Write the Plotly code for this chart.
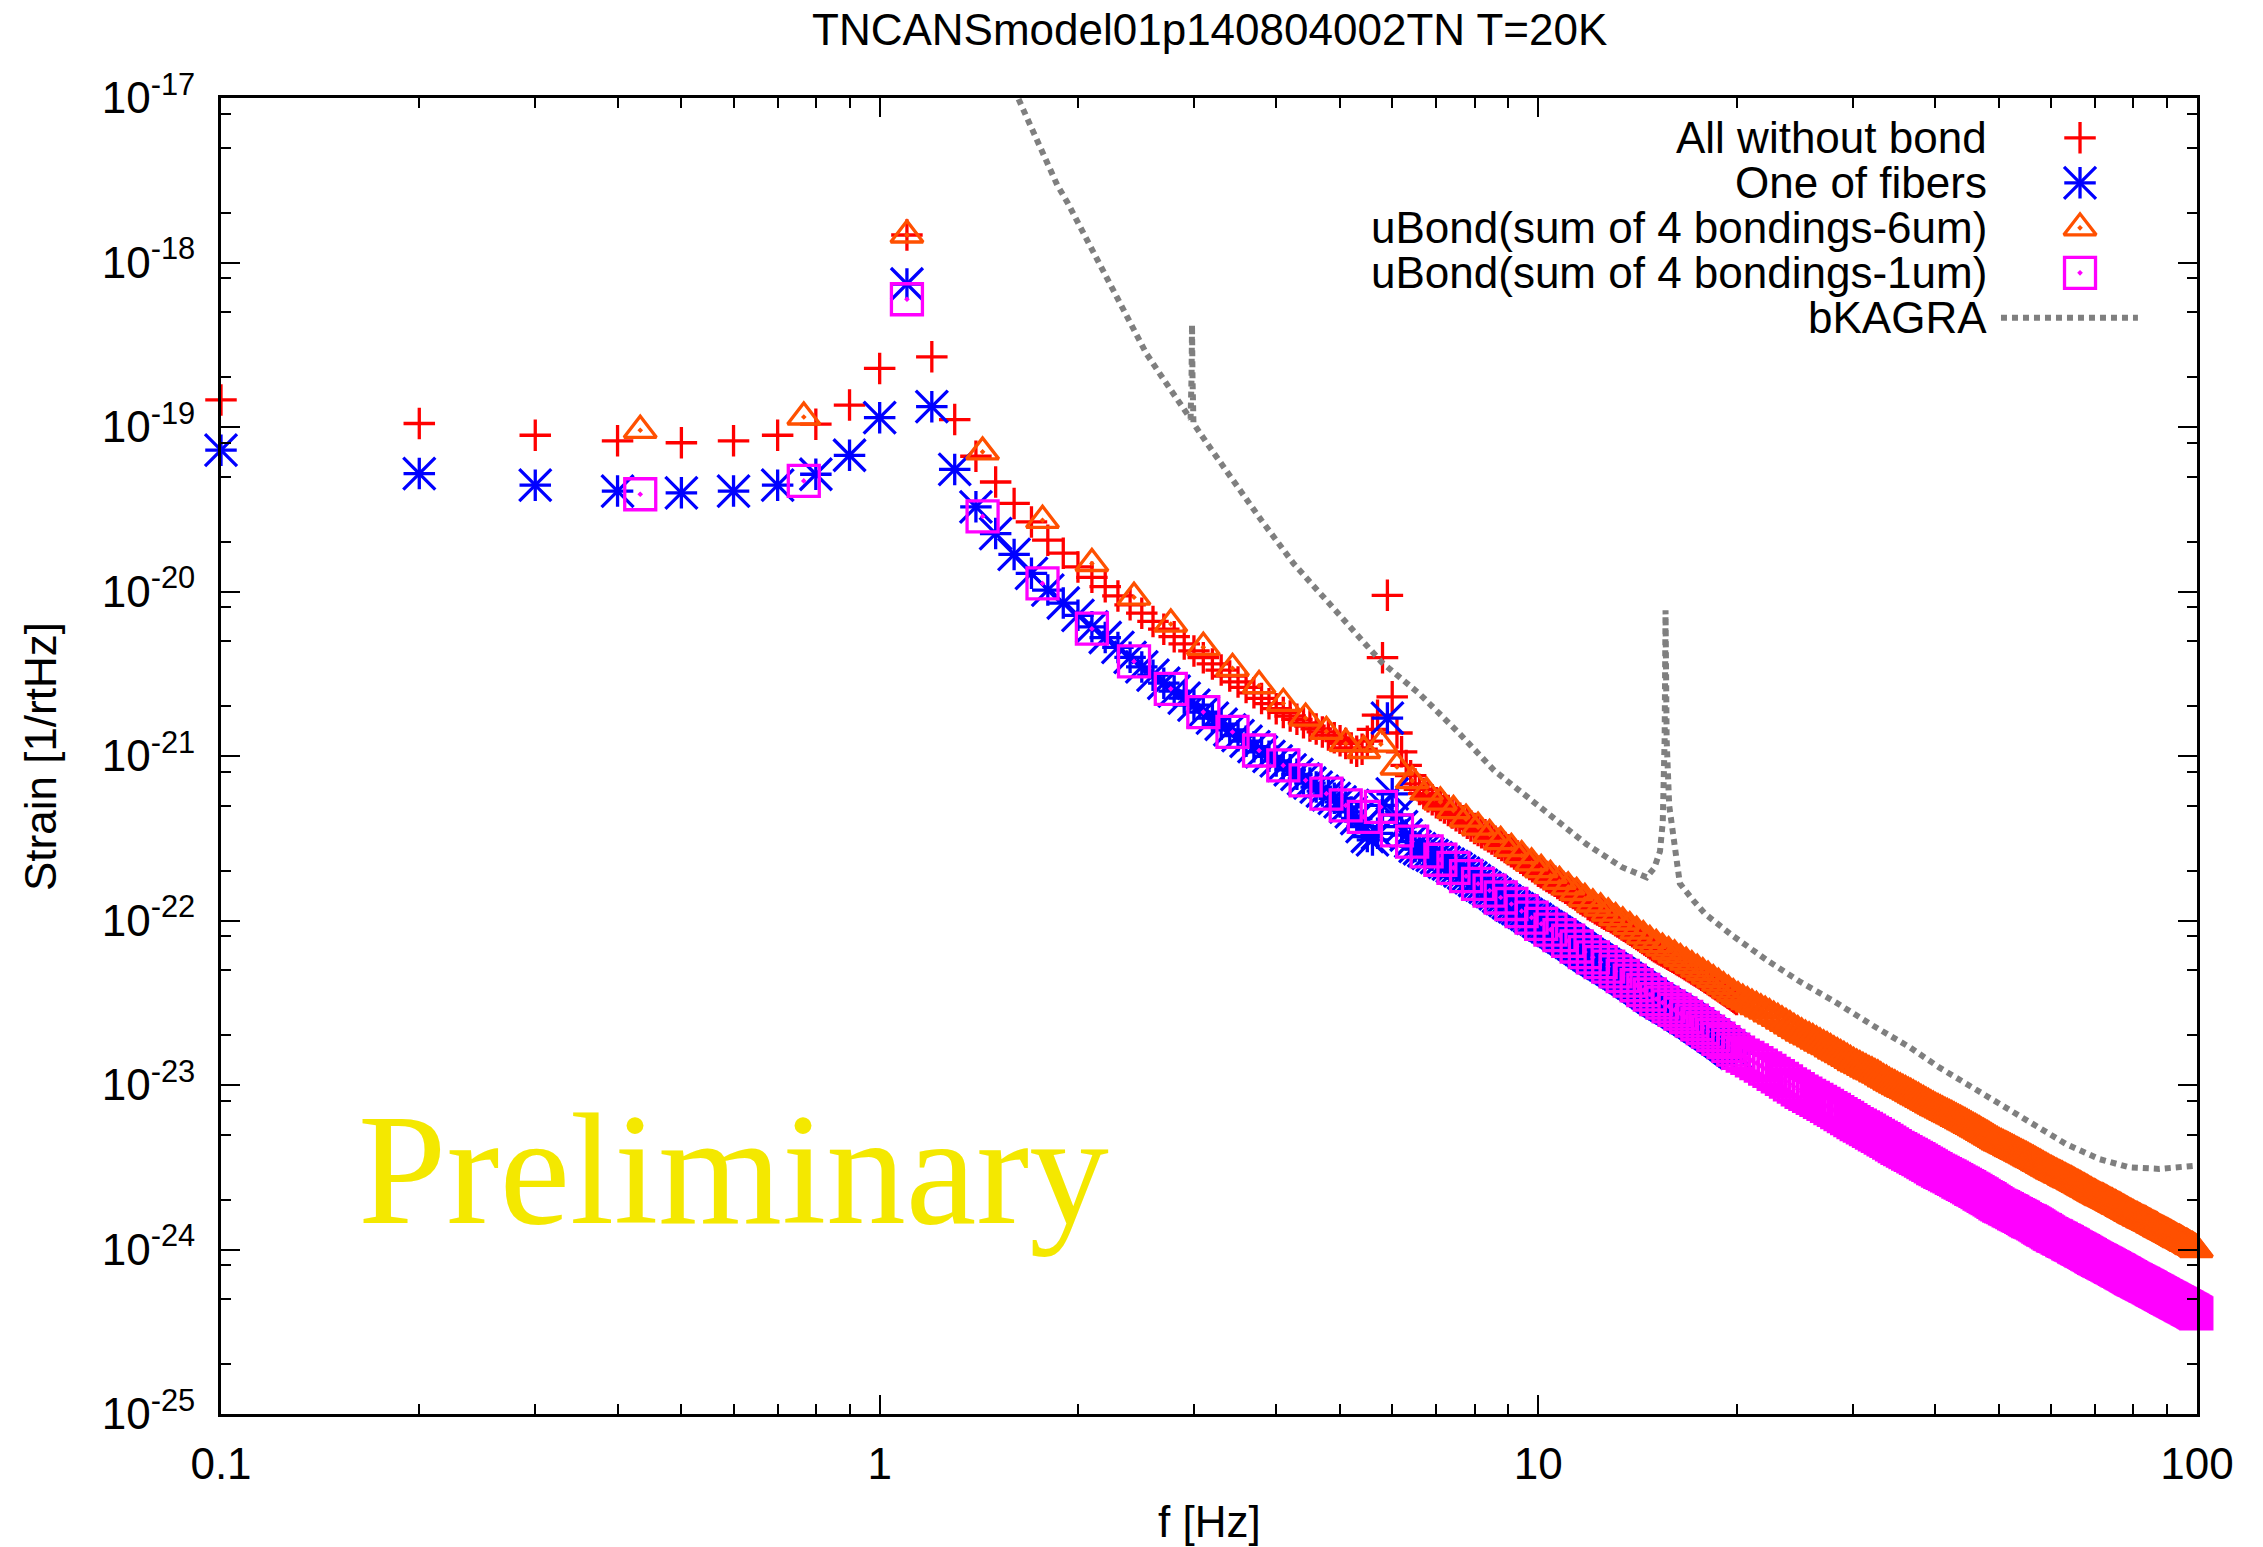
import plotly.graph_objects as go

# ---------------- text ----------------
title_text = "TNCANSmodel01p140804002TN T=20K"
x_title = "f [Hz]"
y_title = "Strain [1/rtHz]"
series_names = ["All without bond", "One of fibers", "uBond(sum of 4 bondings-6um)",
                "uBond(sum of 4 bondings-1um)", "bKAGRA"]
watermark = "Preliminary"

# ---------------- data ----------------
# frequency grid of the fiber series (0.1 Hz steps)
freq_fine = [
    0.1, 0.2, 0.3, 0.4, 0.5, 0.6, 0.7, 0.8, 0.9, 1.0,
    1.1, 1.2, 1.3, 1.4, 1.5, 1.6, 1.7, 1.8, 1.9, 2.0,
    2.1, 2.2, 2.3, 2.4, 2.5, 2.6, 2.7, 2.8, 2.9, 3.0,
    3.1, 3.2, 3.3, 3.4, 3.5, 3.6, 3.7, 3.8, 3.9, 4.0,
    4.1, 4.2, 4.3, 4.4, 4.5, 4.6, 4.7, 4.8, 4.9, 5.0,
    5.1, 5.2, 5.3, 5.4, 5.5, 5.6, 5.7, 5.8, 5.9, 6.0,
    6.1, 6.2, 6.3, 6.4, 6.5, 6.6, 6.7, 6.8, 6.9, 7.0,
    7.1, 7.2, 7.3, 7.4, 7.5, 7.6, 7.7, 7.8, 7.9, 8.0,
    8.1, 8.2, 8.3, 8.4, 8.5, 8.6, 8.7, 8.8, 8.9, 9.0,
    9.1, 9.2, 9.3, 9.4, 9.5, 9.6, 9.7, 9.8, 9.9, 10.0,
    10.1, 10.2, 10.3, 10.4, 10.5, 10.6, 10.7, 10.8, 10.9, 11.0,
    11.1, 11.2, 11.3, 11.4, 11.5, 11.6, 11.7, 11.8, 11.9, 12.0,
    12.1, 12.2, 12.3, 12.4, 12.5, 12.6, 12.7, 12.8, 12.9, 13.0,
    13.1, 13.2, 13.3, 13.4, 13.5, 13.6, 13.7, 13.8, 13.9, 14.0,
    14.1, 14.2, 14.3, 14.4, 14.5, 14.6, 14.7, 14.8, 14.9, 15.0,
    15.1, 15.2, 15.3, 15.4, 15.5, 15.6, 15.7, 15.8, 15.9, 16.0,
    16.1, 16.2, 16.3, 16.4, 16.5, 16.6, 16.7, 16.8, 16.9, 17.0,
    17.1, 17.2, 17.3, 17.4, 17.5, 17.6, 17.7, 17.8, 17.9, 18.0,
    18.1, 18.2, 18.3, 18.4, 18.5, 18.6, 18.7, 18.8, 18.9, 19.0,
    19.1, 19.2, 19.3, 19.4, 19.5, 19.6, 19.7, 19.8, 19.9, 20.0,
]

all_without_bond = [
    1.46e-19, 1.05e-19, 8.91e-20, 8.24e-20, 8.02e-20, 8.24e-20, 8.91e-20, 1.04e-19, 1.36e-19, 2.27e-19,
    1.47e-18, 2.67e-19, 1.11e-19, 6.64e-20, 4.63e-20, 3.43e-20, 2.65e-20, 2.05e-20, 1.71e-20, 1.41e-20,
    1.22e-20, 1.07e-20, 9.40e-21, 8.30e-21, 7.38e-21, 6.58e-21, 5.90e-21, 5.31e-21, 4.80e-21, 4.35e-21,
    3.96e-21, 3.63e-21, 3.33e-21, 3.06e-21, 2.82e-21, 2.61e-21, 2.42e-21, 2.24e-21, 2.08e-21, 1.94e-21,
    1.84e-21, 1.75e-21, 1.67e-21, 1.59e-21, 1.52e-21, 1.46e-21, 1.40e-21, 1.34e-21, 1.29e-21, 1.24e-21,
    1.19e-21, 1.12e-21, 1.07e-21, 1.10e-21, 1.23e-21, 1.45e-21, 1.77e-21, 3.96e-21, 9.48e-21, 2.29e-21,
    1.38e-21, 1.06e-21, 8.77e-22, 7.59e-22, 6.76e-22, 6.26e-22, 5.91e-22, 5.66e-22, 5.42e-22, 5.19e-22,
    5.01e-22, 4.83e-22, 4.66e-22, 4.50e-22, 4.34e-22, 4.19e-22, 4.04e-22, 3.90e-22, 3.76e-22, 3.63e-22,
    3.53e-22, 3.42e-22, 3.32e-22, 3.23e-22, 3.13e-22, 3.03e-22, 2.95e-22, 2.86e-22, 2.78e-22, 2.69e-22,
    2.62e-22, 2.54e-22, 2.47e-22, 2.39e-22, 2.32e-22, 2.25e-22, 2.19e-22, 2.12e-22, 2.06e-22, 1.99e-22,
    1.95e-22, 1.90e-22, 1.85e-22, 1.81e-22, 1.77e-22, 1.73e-22, 1.68e-22, 1.64e-22, 1.61e-22, 1.57e-22,
    1.53e-22, 1.49e-22, 1.46e-22, 1.43e-22, 1.38e-22, 1.35e-22, 1.32e-22, 1.30e-22, 1.25e-22, 1.23e-22,
    1.21e-22, 1.18e-22, 1.16e-22, 1.14e-22, 1.11e-22, 1.09e-22, 1.07e-22, 1.06e-22, 1.04e-22, 1.02e-22,
    9.96e-23, 9.78e-23, 9.59e-23, 9.40e-23, 9.23e-23, 9.06e-23, 8.88e-23, 8.72e-23, 8.55e-23, 8.38e-23,
    8.22e-23, 8.07e-23, 7.91e-23, 7.76e-23, 7.62e-23, 7.47e-23, 7.33e-23, 7.19e-23, 7.05e-23, 6.93e-23,
    6.83e-23, 6.72e-23, 6.62e-23, 6.52e-23, 6.43e-23, 6.35e-23, 6.24e-23, 6.15e-23, 6.06e-23, 5.97e-23,
    5.90e-23, 5.80e-23, 5.71e-23, 5.63e-23, 5.55e-23, 5.48e-23, 5.38e-23, 5.31e-23, 5.23e-23, 5.16e-23,
    5.08e-23, 5.01e-23, 4.93e-23, 4.86e-23, 4.79e-23, 4.73e-23, 4.65e-23, 4.59e-23, 4.51e-23, 4.45e-23,
    4.38e-23, 4.32e-23, 4.26e-23, 4.19e-23, 4.13e-23, 4.07e-23, 4.01e-23, 3.96e-23, 3.89e-23, 3.84e-23,
    3.78e-23, 3.73e-23, 3.68e-23, 3.61e-23, 3.57e-23, 3.52e-23, 3.46e-23, 3.41e-23, 3.36e-23, 3.31e-23,
]

one_of_fibers = [
    7.23e-20, 5.21e-20, 4.43e-20, 4.08e-20, 3.98e-20, 4.08e-20, 4.43e-20, 5.16e-20, 6.73e-20, 1.14e-19,
    7.40e-19, 1.33e-19, 5.52e-20, 3.27e-20, 2.25e-20, 1.68e-20, 1.29e-20, 1.02e-20, 8.51e-21, 7.16e-21,
    6.10e-21, 5.25e-21, 4.57e-21, 3.98e-21, 3.48e-21, 3.10e-21, 2.77e-21, 2.48e-21, 2.25e-21, 2.04e-21,
    1.85e-21, 1.70e-21, 1.56e-21, 1.44e-21, 1.33e-21, 1.23e-21, 1.14e-21, 1.06e-21, 9.95e-22, 9.33e-22,
    8.77e-22, 8.24e-22, 7.74e-22, 7.26e-22, 6.85e-22, 6.47e-22, 6.12e-22, 5.81e-22, 5.53e-22, 5.26e-22,
    4.90e-22, 4.57e-22, 4.17e-22, 3.72e-22, 3.24e-22, 3.09e-22, 3.39e-22, 5.01e-22, 1.70e-21, 5.89e-22,
    4.37e-22, 3.72e-22, 3.31e-22, 3.02e-22, 2.82e-22, 2.73e-22, 2.65e-22, 2.56e-22, 2.49e-22, 2.41e-22,
    2.34e-22, 2.26e-22, 2.20e-22, 2.13e-22, 2.07e-22, 2.00e-22, 1.94e-22, 1.88e-22, 1.82e-22, 1.75e-22,
    1.69e-22, 1.64e-22, 1.59e-22, 1.54e-22, 1.50e-22, 1.45e-22, 1.40e-22, 1.36e-22, 1.32e-22, 1.28e-22,
    1.24e-22, 1.21e-22, 1.18e-22, 1.15e-22, 1.12e-22, 1.09e-22, 1.06e-22, 1.03e-22, 1.02e-22, 9.87e-23,
    9.59e-23, 9.38e-23, 9.16e-23, 8.94e-23, 8.72e-23, 8.52e-23, 8.31e-23, 8.11e-23, 7.91e-23, 7.73e-23,
    7.55e-23, 7.36e-23, 7.19e-23, 7.01e-23, 6.85e-23, 6.68e-23, 6.52e-23, 6.37e-23, 6.21e-23, 6.07e-23,
    5.95e-23, 5.84e-23, 5.72e-23, 5.61e-23, 5.50e-23, 5.40e-23, 5.29e-23, 5.19e-23, 5.09e-23, 4.99e-23,
    4.90e-23, 4.80e-23, 4.71e-23, 4.62e-23, 4.52e-23, 4.44e-23, 4.35e-23, 4.27e-23, 4.18e-23, 4.11e-23,
    4.02e-23, 3.95e-23, 3.87e-23, 3.80e-23, 3.72e-23, 3.65e-23, 3.58e-23, 3.51e-23, 3.44e-23, 3.37e-23,
    3.32e-23, 3.27e-23, 3.22e-23, 3.17e-23, 3.12e-23, 3.07e-23, 3.03e-23, 2.98e-23, 2.93e-23, 2.90e-23,
    2.85e-23, 2.80e-23, 2.76e-23, 2.72e-23, 2.68e-23, 2.63e-23, 2.59e-23, 2.56e-23, 2.52e-23, 2.48e-23,
    2.44e-23, 2.41e-23, 2.37e-23, 2.33e-23, 2.29e-23, 2.26e-23, 2.23e-23, 2.19e-23, 2.15e-23, 2.12e-23,
    2.09e-23, 2.06e-23, 2.03e-23, 1.99e-23, 1.96e-23, 1.94e-23, 1.91e-23, 1.88e-23, 1.85e-23, 1.82e-23,
    1.80e-23, 1.77e-23, 1.74e-23, 1.71e-23, 1.68e-23, 1.66e-23, 1.64e-23, 1.61e-23, 1.59e-23, 1.56e-23,
]

# frequency grid of the bonding series (1/3 Hz steps)
freq_bond = [
    0.433, 0.767,
    1.1, 1.433, 1.767, 2.1, 2.433, 2.767, 3.1, 3.433, 3.767,
    4.1, 4.433, 4.767, 5.1, 5.433, 5.767, 6.1, 6.433, 6.767,
    7.1, 7.433, 7.767, 8.1, 8.433, 8.767, 9.1, 9.433, 9.767,
    10.1, 10.433, 10.767, 11.1, 11.433, 11.767, 12.1, 12.433, 12.767,
    13.1, 13.433, 13.767, 14.1, 14.433, 14.767, 15.1, 15.433, 15.767,
    16.1, 16.433, 16.767, 17.1, 17.433, 17.767, 18.1, 18.433, 18.767,
    19.1, 19.433, 19.767, 20.1, 20.433, 20.767, 21.1, 21.433, 21.767,
    22.1, 22.433, 22.767, 23.1, 23.433, 23.767, 24.1, 24.433, 24.767,
    25.1, 25.433, 25.767, 26.1, 26.433, 26.767, 27.1, 27.433, 27.767,
    28.1, 28.433, 28.767, 29.1, 29.433, 29.767, 30.1, 30.433, 30.767,
    31.1, 31.433, 31.767, 32.1, 32.433, 32.767, 33.1, 33.433, 33.767,
    34.1, 34.433, 34.767, 35.1, 35.433, 35.767, 36.1, 36.433, 36.767,
    37.1, 37.433, 37.767, 38.1, 38.433, 38.767, 39.1, 39.433, 39.767,
    40.1, 40.433, 40.767, 41.1, 41.433, 41.767, 42.1, 42.433, 42.767,
    43.1, 43.433, 43.767, 44.1, 44.433, 44.767, 45.1, 45.433, 45.767,
    46.1, 46.433, 46.767, 47.1, 47.433, 47.767, 48.1, 48.433, 48.767,
    49.1, 49.433, 49.767, 50.1, 50.433, 50.767, 51.1, 51.433, 51.767,
    52.1, 52.433, 52.767, 53.1, 53.433, 53.767, 54.1, 54.433, 54.767,
    55.1, 55.433, 55.767, 56.1, 56.433, 56.767, 57.1, 57.433, 57.767,
    58.1, 58.433, 58.767, 59.1, 59.433, 59.767, 60.1, 60.433, 60.767,
    61.1, 61.433, 61.767, 62.1, 62.433, 62.767, 63.1, 63.433, 63.767,
    64.1, 64.433, 64.767, 65.1, 65.433, 65.767, 66.1, 66.433, 66.767,
    67.1, 67.433, 67.767, 68.1, 68.433, 68.767, 69.1, 69.433, 69.767,
    70.1, 70.433, 70.767, 71.1, 71.433, 71.767, 72.1, 72.433, 72.767,
    73.1, 73.433, 73.767, 74.1, 74.433, 74.767, 75.1, 75.433, 75.767,
    76.1, 76.433, 76.767, 77.1, 77.433, 77.767, 78.1, 78.433, 78.767,
    79.1, 79.433, 79.767, 80.1, 80.433, 80.767, 81.1, 81.433, 81.767,
    82.1, 82.433, 82.767, 83.1, 83.433, 83.767, 84.1, 84.433, 84.767,
    85.1, 85.433, 85.767, 86.1, 86.433, 86.767, 87.1, 87.433, 87.767,
    88.1, 88.433, 88.767, 89.1, 89.433, 89.767, 90.1, 90.433, 90.767,
    91.1, 91.433, 91.767, 92.1, 92.433, 92.767, 93.1, 93.433, 93.767,
    94.1, 94.433, 94.767, 95.1, 95.433, 95.767, 96.1, 96.433, 96.767,
    97.1, 97.433, 97.767, 98.1, 98.433, 98.767, 99.1, 99.433, 99.767,
]

ubond_6um = [
    9.55e-20, 1.15e-19,
    1.47e-18, 7.06e-20, 2.71e-20, 1.48e-20, 9.23e-21, 6.34e-21, 4.58e-21, 3.41e-21, 2.68e-21,
    2.09e-21, 1.70e-21, 1.41e-21, 1.19e-21, 1.08e-21, 1.18e-21, 8.57e-22, 7.08e-22, 6.03e-22,
    5.25e-22, 4.66e-22, 4.13e-22, 3.69e-22, 3.34e-22, 3.02e-22, 2.74e-22, 2.48e-22, 2.24e-22,
    2.04e-22, 1.88e-22, 1.73e-22, 1.60e-22, 1.48e-22, 1.36e-22, 1.26e-22, 1.19e-22, 1.11e-22,
    1.04e-22, 9.79e-23, 9.18e-23, 8.61e-23, 8.07e-23, 7.57e-23, 7.14e-23, 6.79e-23, 6.47e-23,
    6.17e-23, 5.86e-23, 5.58e-23, 5.32e-23, 5.06e-23, 4.82e-23, 4.59e-23, 4.37e-23, 4.16e-23,
    3.96e-23, 3.77e-23, 3.59e-23, 3.44e-23, 3.32e-23, 3.21e-23, 3.10e-23, 3.00e-23, 2.90e-23,
    2.81e-23, 2.71e-23, 2.62e-23, 2.54e-23, 2.45e-23, 2.37e-23, 2.29e-23, 2.21e-23, 2.14e-23,
    2.07e-23, 2.01e-23, 1.96e-23, 1.91e-23, 1.85e-23, 1.80e-23, 1.75e-23, 1.71e-23, 1.66e-23,
    1.61e-23, 1.57e-23, 1.53e-23, 1.49e-23, 1.45e-23, 1.41e-23, 1.37e-23, 1.34e-23, 1.31e-23,
    1.28e-23, 1.25e-23, 1.22e-23, 1.20e-23, 1.17e-23, 1.15e-23, 1.12e-23, 1.09e-23, 1.07e-23,
    1.04e-23, 1.02e-23, 1.00e-23, 9.77e-24, 9.59e-24, 9.40e-24, 9.23e-24, 9.04e-24, 8.87e-24,
    8.69e-24, 8.51e-24, 8.36e-24, 8.18e-24, 8.04e-24, 7.87e-24, 7.73e-24, 7.57e-24, 7.43e-24,
    7.29e-24, 7.18e-24, 7.06e-24, 6.93e-24, 6.82e-24, 6.71e-24, 6.61e-24, 6.50e-24, 6.40e-24,
    6.28e-24, 6.18e-24, 6.08e-24, 5.98e-24, 5.89e-24, 5.79e-24, 5.69e-24, 5.60e-24, 5.51e-24,
    5.42e-24, 5.33e-24, 5.25e-24, 5.15e-24, 5.07e-24, 4.99e-24, 4.91e-24, 4.83e-24, 4.75e-24,
    4.67e-24, 4.59e-24, 4.52e-24, 4.45e-24, 4.40e-24, 4.34e-24, 4.28e-24, 4.23e-24, 4.17e-24,
    4.11e-24, 4.06e-24, 4.01e-24, 3.95e-24, 3.91e-24, 3.85e-24, 3.80e-24, 3.76e-24, 3.71e-24,
    3.66e-24, 3.61e-24, 3.56e-24, 3.52e-24, 3.48e-24, 3.43e-24, 3.38e-24, 3.34e-24, 3.30e-24,
    3.25e-24, 3.21e-24, 3.17e-24, 3.13e-24, 3.09e-24, 3.05e-24, 3.01e-24, 2.98e-24, 2.94e-24,
    2.91e-24, 2.88e-24, 2.84e-24, 2.82e-24, 2.79e-24, 2.75e-24, 2.72e-24, 2.69e-24, 2.66e-24,
    2.64e-24, 2.61e-24, 2.58e-24, 2.55e-24, 2.52e-24, 2.49e-24, 2.47e-24, 2.44e-24, 2.41e-24,
    2.38e-24, 2.36e-24, 2.33e-24, 2.31e-24, 2.28e-24, 2.25e-24, 2.23e-24, 2.20e-24, 2.18e-24,
    2.16e-24, 2.14e-24, 2.11e-24, 2.09e-24, 2.07e-24, 2.06e-24, 2.04e-24, 2.02e-24, 2.00e-24,
    1.98e-24, 1.96e-24, 1.94e-24, 1.92e-24, 1.91e-24, 1.88e-24, 1.87e-24, 1.85e-24, 1.83e-24,
    1.82e-24, 1.80e-24, 1.78e-24, 1.76e-24, 1.75e-24, 1.73e-24, 1.71e-24, 1.70e-24, 1.68e-24,
    1.66e-24, 1.65e-24, 1.63e-24, 1.62e-24, 1.60e-24, 1.59e-24, 1.58e-24, 1.56e-24, 1.55e-24,
    1.54e-24, 1.52e-24, 1.51e-24, 1.50e-24, 1.49e-24, 1.48e-24, 1.46e-24, 1.45e-24, 1.44e-24,
    1.43e-24, 1.41e-24, 1.40e-24, 1.39e-24, 1.38e-24, 1.37e-24, 1.36e-24, 1.34e-24, 1.33e-24,
    1.32e-24, 1.31e-24, 1.30e-24, 1.29e-24, 1.28e-24, 1.27e-24, 1.26e-24, 1.25e-24, 1.24e-24,
    1.23e-24, 1.22e-24, 1.21e-24, 1.20e-24, 1.19e-24, 1.18e-24, 1.17e-24, 1.16e-24, 1.15e-24,
    1.15e-24, 1.14e-24, 1.13e-24, 1.12e-24, 1.11e-24, 1.10e-24, 1.09e-24, 1.09e-24, 1.08e-24,
    1.07e-24, 1.06e-24, 1.05e-24, 1.04e-24, 1.04e-24, 1.03e-24, 1.02e-24, 1.01e-24, 1.00e-24,
]

ubond_1um = [
    3.90e-20, 4.70e-20,
    5.98e-19, 2.86e-20, 1.12e-20, 5.94e-21, 3.76e-21, 2.56e-21, 1.85e-21, 1.40e-21, 1.08e-21,
    8.77e-22, 7.11e-22, 5.90e-22, 5.01e-22, 4.26e-22, 4.90e-22, 3.53e-22, 3.02e-22, 2.63e-22,
    2.34e-22, 2.09e-22, 1.86e-22, 1.67e-22, 1.52e-22, 1.38e-22, 1.26e-22, 1.14e-22, 1.04e-22,
    9.55e-23, 8.81e-23, 8.15e-23, 7.53e-23, 6.95e-23, 6.43e-23, 5.97e-23, 5.58e-23, 5.24e-23,
    4.91e-23, 4.60e-23, 4.31e-23, 4.04e-23, 3.78e-23, 3.55e-23, 3.33e-23, 3.17e-23, 3.01e-23,
    2.86e-23, 2.72e-23, 2.59e-23, 2.46e-23, 2.34e-23, 2.22e-23, 2.11e-23, 2.01e-23, 1.91e-23,
    1.82e-23, 1.73e-23, 1.64e-23, 1.57e-23, 1.51e-23, 1.46e-23, 1.41e-23, 1.36e-23, 1.31e-23,
    1.26e-23, 1.22e-23, 1.17e-23, 1.13e-23, 1.09e-23, 1.05e-23, 1.01e-23, 9.77e-24, 9.42e-24,
    9.10e-24, 8.85e-24, 8.59e-24, 8.36e-24, 8.13e-24, 7.89e-24, 7.67e-24, 7.46e-24, 7.24e-24,
    7.05e-24, 6.85e-24, 6.65e-24, 6.47e-24, 6.30e-24, 6.11e-24, 5.94e-24, 5.79e-24, 5.66e-24,
    5.53e-24, 5.40e-24, 5.27e-24, 5.14e-24, 5.02e-24, 4.91e-24, 4.79e-24, 4.68e-24, 4.57e-24,
    4.46e-24, 4.36e-24, 4.25e-24, 4.15e-24, 4.07e-24, 3.99e-24, 3.91e-24, 3.83e-24, 3.76e-24,
    3.68e-24, 3.61e-24, 3.54e-24, 3.47e-24, 3.40e-24, 3.33e-24, 3.27e-24, 3.20e-24, 3.13e-24,
    3.08e-24, 3.02e-24, 2.97e-24, 2.92e-24, 2.87e-24, 2.82e-24, 2.78e-24, 2.73e-24, 2.69e-24,
    2.64e-24, 2.59e-24, 2.55e-24, 2.51e-24, 2.47e-24, 2.43e-24, 2.39e-24, 2.34e-24, 2.31e-24,
    2.27e-24, 2.23e-24, 2.19e-24, 2.16e-24, 2.12e-24, 2.08e-24, 2.05e-24, 2.02e-24, 1.98e-24,
    1.95e-24, 1.91e-24, 1.88e-24, 1.85e-24, 1.83e-24, 1.81e-24, 1.78e-24, 1.76e-24, 1.73e-24,
    1.71e-24, 1.69e-24, 1.66e-24, 1.64e-24, 1.62e-24, 1.60e-24, 1.58e-24, 1.56e-24, 1.53e-24,
    1.51e-24, 1.49e-24, 1.48e-24, 1.46e-24, 1.44e-24, 1.42e-24, 1.40e-24, 1.38e-24, 1.36e-24,
    1.34e-24, 1.32e-24, 1.31e-24, 1.29e-24, 1.27e-24, 1.25e-24, 1.24e-24, 1.22e-24, 1.21e-24,
    1.20e-24, 1.18e-24, 1.17e-24, 1.16e-24, 1.14e-24, 1.13e-24, 1.12e-24, 1.11e-24, 1.09e-24,
    1.08e-24, 1.07e-24, 1.06e-24, 1.04e-24, 1.03e-24, 1.02e-24, 1.01e-24, 9.98e-25, 9.86e-25,
    9.77e-25, 9.66e-25, 9.55e-25, 9.44e-25, 9.33e-25, 9.23e-25, 9.12e-25, 9.02e-25, 8.91e-25,
    8.83e-25, 8.73e-25, 8.65e-25, 8.57e-25, 8.49e-25, 8.41e-25, 8.32e-25, 8.24e-25, 8.17e-25,
    8.09e-25, 8.00e-25, 7.93e-25, 7.85e-25, 7.78e-25, 7.71e-25, 7.62e-25, 7.55e-25, 7.48e-25,
    7.41e-25, 7.33e-25, 7.26e-25, 7.19e-25, 7.13e-25, 7.05e-25, 6.98e-25, 6.92e-25, 6.85e-25,
    6.78e-25, 6.71e-25, 6.65e-25, 6.59e-25, 6.53e-25, 6.49e-25, 6.43e-25, 6.37e-25, 6.32e-25,
    6.27e-25, 6.21e-25, 6.17e-25, 6.11e-25, 6.05e-25, 6.01e-25, 5.96e-25, 5.90e-25, 5.86e-25,
    5.81e-25, 5.75e-25, 5.71e-25, 5.66e-25, 5.61e-25, 5.57e-25, 5.52e-25, 5.47e-25, 5.43e-25,
    5.38e-25, 5.33e-25, 5.30e-25, 5.25e-25, 5.20e-25, 5.16e-25, 5.12e-25, 5.08e-25, 5.04e-25,
    5.00e-25, 4.97e-25, 4.92e-25, 4.89e-25, 4.85e-25, 4.81e-25, 4.78e-25, 4.74e-25, 4.70e-25,
    4.67e-25, 4.63e-25, 4.59e-25, 4.56e-25, 4.53e-25, 4.49e-25, 4.46e-25, 4.43e-25, 4.39e-25,
    4.36e-25, 4.33e-25, 4.29e-25, 4.26e-25, 4.23e-25, 4.19e-25, 4.16e-25, 4.13e-25, 4.09e-25,
]

bkagra_f = [
    1.55, 1.62, 1.74, 1.86, 1.93, 2.01, 2.10, 2.21, 2.31, 2.42,
    2.54, 2.70, 2.85, 2.95, 2.965, 2.975, 2.98, 2.985, 2.995, 3.0,
    3.2, 3.5, 3.8, 4.25, 4.7, 5.16, 5.78, 6.60, 7.55, 8.57,
    10.07, 11.82, 13.4, 14.2, 14.6, 15.0, 15.3, 15.45, 15.55, 15.6,
    15.66, 15.8, 16.1, 16.4, 17.2, 17.9, 19.7, 22.4, 24.9, 28.0,
    32.2, 36.6, 40.6, 44.6, 50.1, 56.2, 63.2, 71.0, 78.9, 87.6,
    97.3, 100.0,
]
bkagra_h = [
    1.5e-17, 1.0e-17, 5.3e-18, 2.96e-18, 2.30e-18, 1.69e-18, 1.16e-18, 8.18e-19, 5.64e-19, 3.98e-19,
    2.80e-19, 1.94e-19, 1.41e-19, 1.14e-19, 1.12e-19, 2.0e-19, 4.2e-19, 2.0e-19, 1.06e-19, 1.04e-19,
    7.14e-20, 4.25e-20, 2.70e-20, 1.48e-20, 9.46e-21, 6.22e-21, 3.72e-21, 2.39e-21, 1.40e-21, 8.17e-22,
    4.89e-22, 2.92e-22, 2.11e-22, 1.91e-22, 1.83e-22, 2.09e-22, 2.63e-22, 3.98e-22, 1.26e-21, 7.69e-21,
    1.26e-21, 5.01e-22, 3.07e-22, 1.68e-22, 1.32e-22, 1.10e-22, 8.11e-23, 5.62e-23, 4.27e-23, 3.26e-23,
    2.30e-23, 1.70e-23, 1.28e-23, 1.02e-23, 7.67e-24, 5.79e-24, 4.39e-24, 3.55e-24, 3.16e-24, 3.09e-24,
    3.16e-24, 3.24e-24,
]

assert len(freq_fine) == len(all_without_bond) == len(one_of_fibers)
assert len(freq_bond) == len(ubond_6um) == len(ubond_1um)
assert len(bkagra_f) == len(bkagra_h)

x_tick_vals = [0.1, 1, 10, 100]
x_tick_text = ["0.1", "1", "10", "100"]
y_exponents = [-25, -24, -23, -22, -21, -20, -19, -18, -17]

# ---------------- style ----------------
FONT = "Liberation Sans, Arial, Helvetica, sans-serif"
SERIF = "Liberation Serif, Times New Roman, serif"
FS = 44
RED = "#ff0000"
BLUE = "#0000ff"
ORANGE = "#ff5000"
MAGENTA = "#ff00ff"
GRAY = "#7f7f7f"
YELLOW = "#f4e800"
MLW = 3.3
KAGRA_LINE = dict(color=GRAY, width=6, dash="6px,5px")

y_tick_vals = [10.0 ** e for e in y_exponents]
y_tick_text = ["10<sup>%d</sup>" % e for e in y_exponents]
y_minor = [m * 10.0 ** e for e in y_exponents[:-1] for m in (2, 5, 8)]
x_minor = [m * 10.0 ** e for e in (-1, 0, 1) for m in range(2, 10)]

sym_plus = dict(symbol="cross-thin-open", size=22.5)
sym_xdiag = dict(symbol="x-thin-open", size=32)
sym_tri = dict(symbol="triangle-up-open-dot", size=28)
sym_sq = dict(symbol="square-open-dot", size=31)


def mk(sym, color):
    return dict(symbol=sym["symbol"], size=sym["size"], color=color,
                line=dict(color=color, width=MLW))


fig = go.Figure()

fig.add_trace(go.Scatter(x=freq_fine, y=all_without_bond, mode="markers", name=series_names[0],
                         marker=mk(sym_plus, RED), cliponaxis=False))
fig.add_trace(go.Scatter(x=freq_fine, y=one_of_fibers, mode="markers", name=series_names[1],
                         marker=mk(sym_plus, BLUE), cliponaxis=False))
fig.add_trace(go.Scatter(x=freq_fine, y=one_of_fibers, mode="markers", name=series_names[1],
                         marker=mk(sym_xdiag, BLUE), cliponaxis=False))
fig.add_trace(go.Scatter(x=freq_bond, y=ubond_6um, mode="markers", name=series_names[2],
                         marker=mk(sym_tri, ORANGE), cliponaxis=False))
fig.add_trace(go.Scatter(x=freq_bond, y=ubond_1um, mode="markers", name=series_names[3],
                         marker=mk(sym_sq, MAGENTA), cliponaxis=False))
fig.add_trace(go.Scatter(x=bkagra_f, y=bkagra_h, mode="lines", name=series_names[4],
                         line=KAGRA_LINE))

# ---------------- key (gnuplot style: text on the left, sample on the right) ----------------
key_text_x = 0.8942
key_sample_x = 0.9408
key_rows = [0.96972, 0.93552, 0.90133, 0.86714, 0.83294]
key_line_x = [0.9008, 0.9701]

key_styles = [[sym_plus], [sym_plus, sym_xdiag], [sym_tri], [sym_sq]]
key_colors = [RED, BLUE, ORANGE, MAGENTA]
for row, syms, col in zip(key_rows[:4], key_styles, key_colors):
    for s in syms:
        fig.add_trace(go.Scatter(x=[key_sample_x], y=[row], mode="markers", xaxis="x2", yaxis="y2",
                                 marker=mk(s, col), hoverinfo="skip", cliponaxis=False))
fig.add_trace(go.Scatter(x=key_line_x, y=[key_rows[4]] * 2, mode="lines", xaxis="x2", yaxis="y2",
                         line=KAGRA_LINE, hoverinfo="skip"))

annotations = []
for row, name in zip(key_rows, series_names):
    annotations.append(dict(text=name, x=key_text_x, y=row, xref="paper", yref="paper",
                            xanchor="right", yanchor="middle", showarrow=False, borderpad=0,
                            font=dict(family=FONT, size=FS, color="black")))
annotations.append(dict(text=title_text, x=0.5, y=1.0521, xref="paper", yref="paper",
                        xanchor="center", yanchor="middle", showarrow=False,
                        font=dict(family=FONT, size=FS, color="black")))
annotations.append(dict(text=x_title, x=0.5, y=-0.0818, xref="paper", yref="paper",
                        xanchor="center", yanchor="middle", showarrow=False, borderpad=0,
                        font=dict(family=FONT, size=FS, color="black")))
annotations.append(dict(text=y_title, x=-0.0916, y=0.5, xref="paper", yref="paper",
                        xanchor="center", yanchor="middle", showarrow=False, textangle=-90,
                        font=dict(family=FONT, size=FS, color="black")))
annotations.append(dict(text=watermark, x=0.0685, y=0.1862, xref="paper", yref="paper",
                        xanchor="left", yanchor="middle", showarrow=False,
                        font=dict(family=SERIF, size=159, color=YELLOW)))

axis_common = dict(
    type="log", showline=True, linecolor="black", linewidth=3, mirror="allticks",
    ticks="inside", ticklen=19, tickwidth=2, tickcolor="black",
    showgrid=False, zeroline=False,
    tickfont=dict(family=FONT, size=FS, color="black"),
)

fig.update_layout(
    width=2263, height=1547, autosize=False,
    margin=dict(l=221, r=66, t=98, b=133, autoexpand=False),
    paper_bgcolor="white", plot_bgcolor="white",
    showlegend=False,
    font=dict(family=FONT, size=FS, color="black"),
    xaxis=dict(axis_common, range=[-1, 2], tickmode="array", tickvals=x_tick_vals,
               ticktext=x_tick_text, ticklabelstandoff=9,
               minor=dict(tickmode="array", tickvals=x_minor, ticks="inside", ticklen=10,
                          tickwidth=2, tickcolor="black", showgrid=False)),
    yaxis=dict(axis_common, range=[-25, -17], tickmode="array", tickvals=y_tick_vals,
               ticktext=y_tick_text, ticklabelstandoff=14,
               minor=dict(tickmode="array", tickvals=y_minor, ticks="inside", ticklen=10,
                          tickwidth=2, tickcolor="black", showgrid=False)),
    xaxis2=dict(overlaying="x", anchor="y2", range=[0, 1], visible=False, fixedrange=True),
    yaxis2=dict(overlaying="y", anchor="x2", range=[0, 1], visible=False, fixedrange=True),
    annotations=annotations,
)

fig.write_html("out.html")
